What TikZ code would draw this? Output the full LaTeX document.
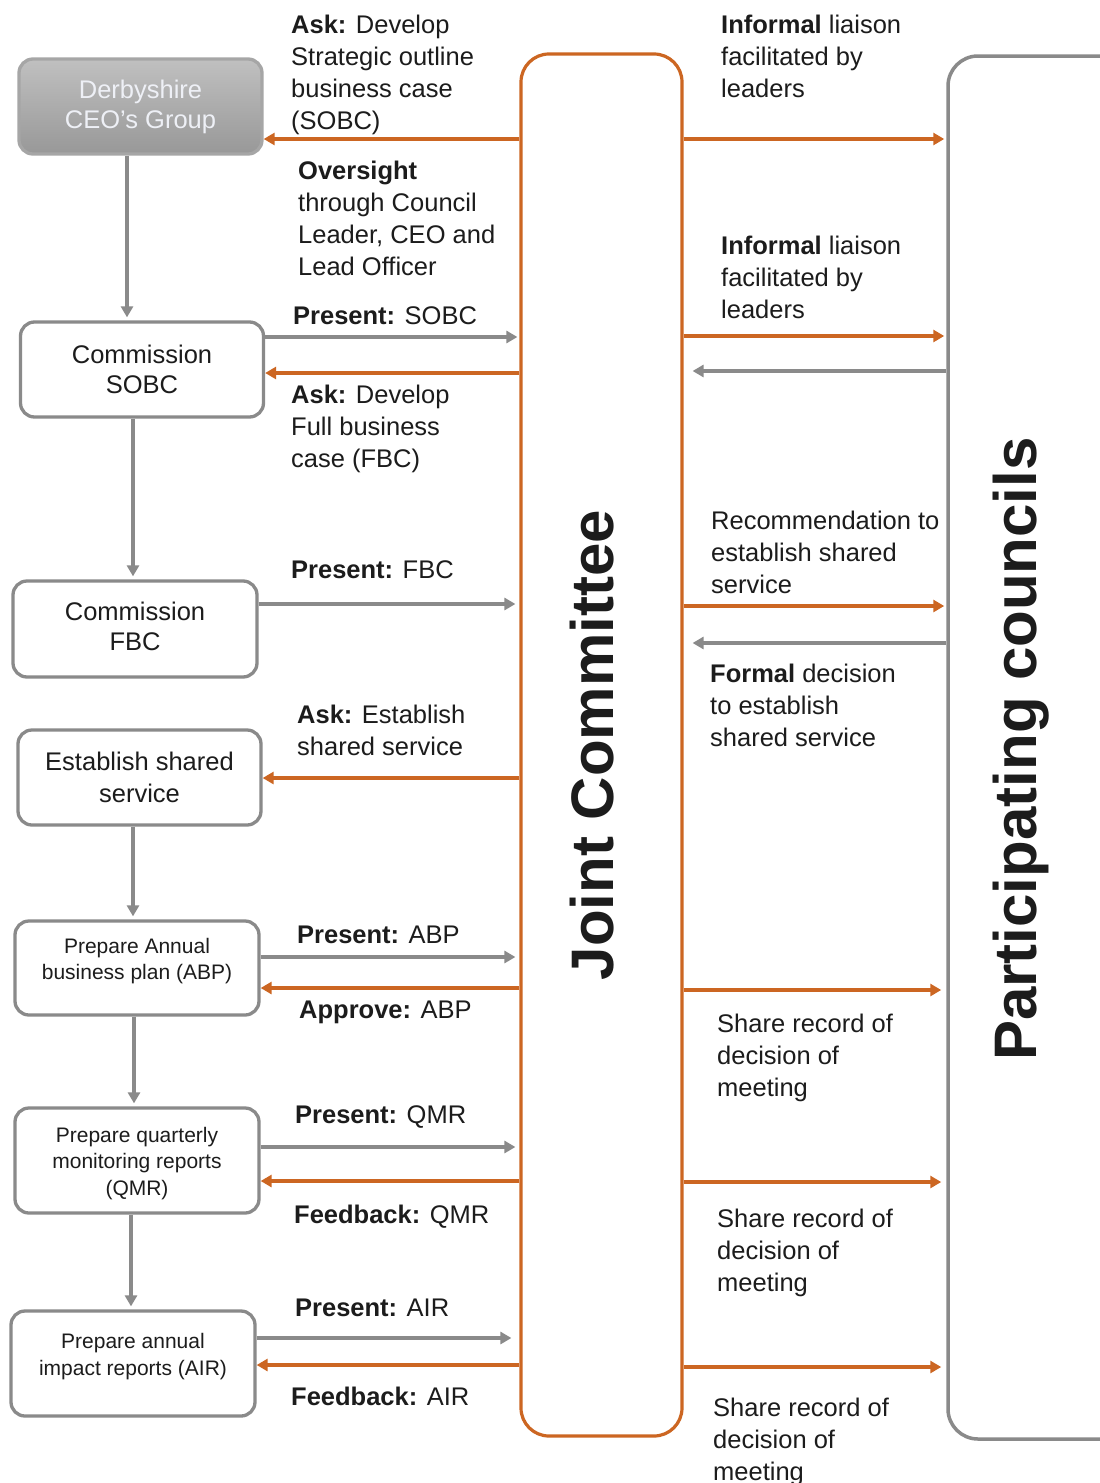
\documentclass[tikz,border=0pt]{standalone}
\usepackage{fontspec}
\setmainfont{Liberation Sans}
\usetikzlibrary{arrows.meta}
\definecolor{org}{RGB}{204,102,34}
\definecolor{gln}{RGB}{138,138,138}
\definecolor{txt}{RGB}{28,28,28}
\begin{document}
\begin{tikzpicture}[x=1pt,y=-1pt,
  lbox/.style={draw=gln, line width=3.3pt, rounded corners=14pt, minimum width=243pt, minimum height=95pt, align=center, text=txt, font=\fontsize{25.5}{30}\selectfont, fill=white, inner sep=2pt},
  sbox/.style={lbox, font=\fontsize{21}{27}\selectfont},
  stxt/.style={align=center, text=txt, font=\fontsize{21}{26.5}\selectfont, inner sep=0pt},
  oarr/.style={draw=org, line width=3.2pt, -{Triangle[length=11pt,width=12pt]}},
  garr/.style={draw=gln, line width=3.2pt, -{Triangle[length=11pt,width=12pt]}},
  lab/.style={anchor=north west, inner sep=0pt, align=left, text=txt, font=\fontsize{25.5}{32}\selectfont},
  big/.style={rotate=90, text=txt, inner sep=0pt, font=\fontsize{60}{60}\bfseries\selectfont},
]
\clip (0,0) rectangle (1100,1483);
\fill[white] (0,0) rectangle (1100,1483);

% main columns
\node[draw=org, line width=3.2pt, rounded corners=28pt, minimum width=161pt, minimum height=1382pt] (jc) at (601.5,745) {};
\node[draw=gln, line width=3.5pt, rounded corners=30pt, minimum width=186pt, minimum height=1383pt] (pc) at (1041,747.5) {};
\node[big] (jct) at (592,745) {Joint Committee};
\node[big] (pct) at (1021,749) {Participating councils};

% left boxes
\node[lbox, draw=gray!70, top color={rgb,255:red,192;green,192;blue,192}, bottom color={rgb,255:red,152;green,152;blue,152}, text={rgb,255:red,238;green,240;blue,246}] (ceo) at (140.5,106.5) {Derbyshire\\CEO's Group};
\node[lbox] (sobc) at (142,369.5) {Commission\\SOBC};
\node[lbox, minimum width=244pt, minimum height=96pt, label={[lbox, draw=none, fill=none, minimum width=0pt, minimum height=0pt, inner sep=0pt, yshift=3pt]center:Commission\\FBC}] (fbc) at (135,629) {};
\node[lbox, font=\fontsize{25.5}{32}\selectfont] (ess) at (139.5,777.5) {Establish shared\\service};
\node[sbox, minimum width=244pt, minimum height=94pt, label={[stxt, yshift=7pt]center:Prepare Annual\\business plan (ABP)}] (abp) at (137,968) {};
\node[sbox, minimum width=244pt, minimum height=105pt, label={[stxt, yshift=-3pt]center:Prepare quarterly\\monitoring reports\\(QMR)}] (qmr) at (137,1160.5) {};
\node[sbox, minimum width=244pt, minimum height=105pt, label={[stxt, yshift=7pt]center:Prepare annual\\impact reports (AIR)}] (air) at (133,1363.5) {};

% vertical flow
\draw[garr, shorten >=3pt] (ceo.south -| 127,0) -- (sobc.north -| 127,0);
\draw[garr, shorten >=3pt] (sobc.south -| 133,0) -- (fbc.north -| 133,0);
\draw[garr, shorten >=3pt] (ess.south -| 133,0) -- (abp.north -| 133,0);
\draw[garr, shorten >=3pt] (abp.south -| 134,0) -- (qmr.north -| 134,0);
\draw[garr, shorten >=3pt] (qmr.south -| 131,0) -- (air.north -| 131,0);

% left horizontal arrows
\draw[oarr] (jc.west |- 0,139) -- (ceo.east |- 0,139);
\draw[garr, shorten >=2pt] (sobc.east |- 0,337) -- (jc.west |- 0,337);
\draw[oarr] (jc.west |- 0,373) -- (sobc.east |- 0,373);
\draw[garr, shorten >=4pt] (fbc.east |- 0,604) -- (jc.west |- 0,604);
\draw[oarr] (jc.west |- 0,778) -- (ess.east |- 0,778);
\draw[garr, shorten >=4pt] (abp.east |- 0,957) -- (jc.west |- 0,957);
\draw[oarr] (jc.west |- 0,988) -- (abp.east |- 0,988);
\draw[garr, shorten >=4pt] (qmr.east |- 0,1147) -- (jc.west |- 0,1147);
\draw[oarr] (jc.west |- 0,1181) -- (qmr.east |- 0,1181);
\draw[garr, shorten >=8pt] (air.east |- 0,1338) -- (jc.west |- 0,1338);
\draw[oarr] (jc.west |- 0,1365) -- (air.east |- 0,1365);

% right horizontal arrows
\draw[oarr, shorten >=2pt] (jc.east |- 0,139) -- (pc.west |- 0,139);
\draw[oarr, shorten >=2pt] (jc.east |- 0,336) -- (pc.west |- 0,336);
\draw[garr, shorten >=9pt] (pc.west |- 0,371) -- (jc.east |- 0,371);
\draw[oarr, shorten >=2pt] (jc.east |- 0,606) -- (pc.west |- 0,606);
\draw[garr, shorten >=9pt] (pc.west |- 0,643) -- (jc.east |- 0,643);
\draw[oarr, shorten >=5pt] (jc.east |- 0,990) -- (pc.west |- 0,990);
\draw[oarr, shorten >=5pt] (jc.east |- 0,1182) -- (pc.west |- 0,1182);
\draw[oarr, shorten >=5pt] (jc.east |- 0,1367) -- (pc.west |- 0,1367);

% left labels
\node[lab] (l1) at (291,14.5) {\textbf{Ask:} Develop\\Strategic outline\\business case\\(SOBC)};
\node[lab] (l2) at (298,160.5) {\textbf{Oversight}\\through Council\\Leader, CEO and\\Lead Officer};
\node[lab] (l3) at (293,306.5) {\textbf{Present:} SOBC};
\node[lab] (l4) at (291,384.5) {\textbf{Ask:} Develop\\Full business\\case (FBC)};
\node[lab] (l5) at (291,560.5) {\textbf{Present:} FBC};
\node[lab] (l6) at (297,704.5) {\textbf{Ask:} Establish\\shared service};
\node[lab] (l7) at (297,925.5) {\textbf{Present:} ABP};
\node[lab] (l8) at (299,1000.5) {\textbf{Approve:} ABP};
\node[lab] (l9) at (295,1105.5) {\textbf{Present:} QMR};
\node[lab] (l10) at (294,1204.5) {\textbf{Feedback:} QMR};
\node[lab] (l11) at (295,1298.5) {\textbf{Present:} AIR};
\node[lab] (l12) at (291,1386.5) {\textbf{Feedback:} AIR};

% right labels
\node[lab] (r1) at (721,14.5) {\textbf{Informal} liaison\\facilitated by\\leaders};
\node[lab] (r2) at (721,235.5) {\textbf{Informal} liaison\\facilitated by\\leaders};
\node[lab] (r3) at (711,510.5) {Recommendation to\\establish shared\\service};
\node[lab] (r4) at (710,663.5) {\textbf{Formal} decision\\to establish\\shared service};
\node[lab] (r5) at (717,1013.5) {Share record of\\decision of\\meeting};
\node[lab] (r6) at (717,1208.5) {Share record of\\decision of\\meeting};
\node[lab] (r7) at (713,1397.5) {Share record of\\decision of\\meeting};
\end{tikzpicture}
\end{document}
